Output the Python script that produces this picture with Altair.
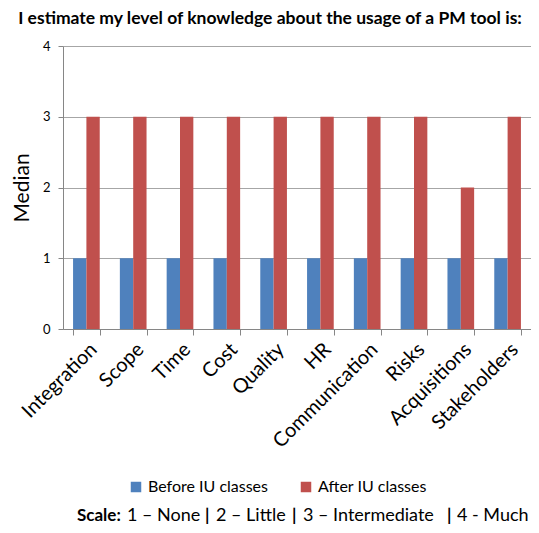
import altair as alt
import pandas as pd

categories = ["Integration", "Scope", "Time", "Cost", "Quality", "HR",
              "Communication", "Risks", "Acquisitions", "Stakeholders"]
before = [1, 1, 1, 1, 1, 1, 1, 1, 1, 1]
after = [3, 3, 3, 3, 3, 3, 3, 3, 2, 3]
series = ["Before IU classes", "After IU classes"]
colors = ["#4F81BD", "#C0504D"]

scale_segments = ["Scale:", "1 \u2013 None", "|", "2 \u2013 Little", "|",
                  "3 \u2013 Intermediate", "|", "4 - Much"]
scale_x = [14, 64, 142, 153, 229, 240, 384, 394]
scale_bold = [True, False, True, False, True, False, True, False]

rows = []
for c, b, a in zip(categories, before, after):
    rows.append({"Area": c, "Group": series[0], "Median": b})
    rows.append({"Area": c, "Group": series[1], "Median": a})
df = pd.DataFrame(rows)

FONT = "Lato"

bars = alt.Chart(df).mark_bar().encode(
    x=alt.X("Area:N", sort=categories,
            scale=alt.Scale(paddingInner=0.43, paddingOuter=0.215),
            axis=alt.Axis(title=None, labelAngle=-45, labelFontSize=20,
                          labelFont=FONT, labelColor="#000000",
                          labelAlign="right", labelBaseline="top",
                          labelPadding=4,
                          domainColor="#868686", tickColor="#868686",
                          tickBand="extent", tickSize=6, grid=False)),
    xOffset=alt.XOffset("Group:N", sort=series),
    y=alt.Y("Median:Q", scale=alt.Scale(domain=[0, 4]),
            axis=alt.Axis(title="Median", titleFontSize=21, titleFont=FONT,
                          titleFontWeight="normal", titleColor="#000000",
                          titlePadding=10,
                          values=[0, 1, 2, 3, 4], format="d",
                          labelFontSize=13, labelFont=FONT, labelColor="#000000",
                          labelPadding=8,
                          domainColor="#868686", tickColor="#868686",
                          tickSize=5, gridColor="#A6A6A6")),
    color=alt.Color("Group:N", sort=series,
                    scale=alt.Scale(domain=series, range=colors),
                    legend=alt.Legend(title=None, orient="none",
                                      legendX=65, legendY=433,
                                      direction="horizontal",
                                      symbolType="square", symbolSize=110,
                                      symbolStrokeWidth=0,
                                      labelFontSize=16, labelFont=FONT,
                                      labelColor="#000000",
                                      columnPadding=30)),
)

layers = [bars]
for seg, sx, bold in zip(scale_segments, scale_x, scale_bold):
    layers.append(
        alt.Chart(pd.DataFrame({"t": [seg]})).mark_text(
            align="left", baseline="middle",
            fontSize=17 if bold else 18,
            fontWeight="bold" if bold else "normal",
            font=FONT, color="#000000"
        ).encode(x=alt.value(sx), y=alt.value(470), text="t:N")
    )

chart = alt.layer(*layers).properties(
    width=468, height=283,
    title=alt.TitleParams(
        "I estimate my level of knowledge about the usage of a PM tool is:",
        fontSize=17.5, font=FONT, fontWeight="bold", color="#000000",
        anchor="middle", dx=-27, offset=13),
    autosize=alt.AutoSizeParams(type="none"),
    padding={"left": 55, "top": 38, "right": 0, "bottom": 196},
).configure_view(stroke=None)

chart.save("out.html", embed_options={"renderer": "svg", "actions": False})
